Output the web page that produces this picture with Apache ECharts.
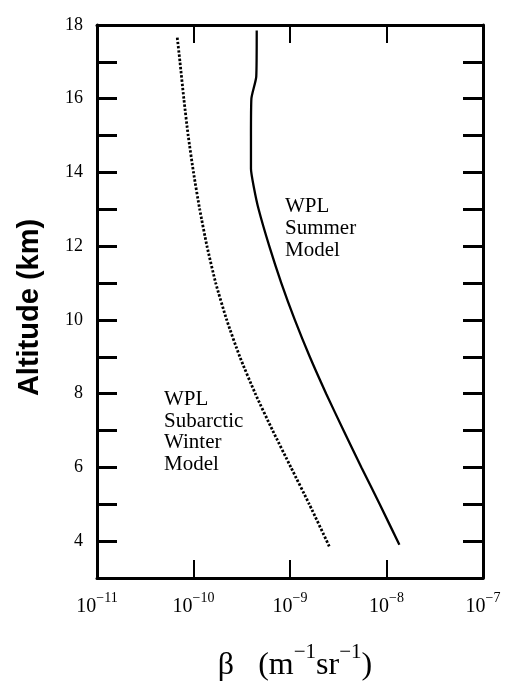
<!DOCTYPE html>
<html>
<head>
<meta charset="utf-8">
<script src="https://cdn.jsdelivr.net/npm/echarts@6/dist/echarts.min.js"></script>
<style>
  html, body { margin: 0; padding: 0; background: #fff; }
</style>
</head>
<body>
<div id="res" style="width:506px;height:687px;"></div>
<script>
// altitude (km) and backscatter beta (m^-1 sr^-1)
const summerAlt  = [3.9, 5.0, 6.0, 7.0, 8.0, 9.0, 10.0, 11.0, 12.0, 13.0, 13.6, 14.1, 15.0, 16.0, 16.6, 17.85];
const summerBeta = [1.36e-8, 8.51e-9, 5.5e-9, 3.59e-9, 2.37e-9, 1.603e-9, 1.122e-9, 8.13e-10, 6.1e-10, 4.73e-10, 4.22e-10, 3.94e-10, 3.94e-10, 3.98e-10, 4.47e-10, 4.52e-10];

const winterAlt  = [3.86, 5.0, 6.0, 7.0, 8.0, 9.0, 10.0, 11.0, 12.0, 13.0, 14.0, 15.0, 16.0, 17.0, 17.7];
const winterBeta = [2.55e-9, 1.585e-9, 1.023e-9, 6.61e-10, 4.37e-10, 3.02e-10, 2.21e-10, 1.7e-10, 1.38e-10, 1.16e-10, 1.0e-10, 8.81e-11, 7.94e-11, 7.24e-11, 6.76e-11];

const xTicks = [1e-11, 1e-10, 1e-9, 1e-8, 1e-7];
const yLabels = [4, 6, 8, 10, 12, 14, 16, 18];

function pairs(xs, ys) {
  return xs.map((x, i) => [x, ys[i]]);
}

const serif = 'Liberation Serif';
let chartDom = document.getElementById('res');
let myChart = echarts.init(chartDom);

const xCommon = {
  type: 'log',
  logBase: 10,
  min: xTicks[0],
  max: xTicks[xTicks.length - 1],
  axisLine: { show: true, lineStyle: { color: '#000', width: 3 } },
  axisTick: { show: true, inside: true, length: 18, lineStyle: { color: '#000', width: 2 } },
  minorTick: { show: false },
  splitLine: { show: false }
};
const yCommon = {
  type: 'value',
  min: 3,
  max: 18,
  interval: 1,
  axisLine: { show: true, lineStyle: { color: '#000', width: 3 } },
  axisTick: { show: true, inside: true, length: 20, lineStyle: { color: '#000', width: 3 } },
  splitLine: { show: false }
};

let option = {
  animation: false,
  grid: { left: 97, right: 23, top: 25, bottom: 109 },
  xAxis: [
    Object.assign({}, xCommon, {
      position: 'bottom',
      axisLabel: {
        margin: 13,
        formatter: function (v) {
          const e = Math.round(Math.log10(v));
          return '{b|10}{s|\u2212' + Math.abs(e) + '}';
        },
        rich: {
          b: { fontFamily: serif, fontSize: 20, color: '#000', lineHeight: 26, verticalAlign: 'bottom' },
          s: { fontFamily: serif, fontSize: 14, color: '#000', lineHeight: 26, verticalAlign: 'top' }
        }
      },
      name: '{t|\u03b2   (m}{s|\u22121}{t|sr}{s|\u22121}{t|)}',
      nameLocation: 'middle',
      nameGap: 64,
      nameTextStyle: {
        padding: [0, 0, 0, 10],
        rich: {
          t: { fontFamily: serif, fontSize: 32, color: '#000', lineHeight: 40, verticalAlign: 'bottom' },
          s: { fontFamily: serif, fontSize: 21, color: '#000', lineHeight: 40, verticalAlign: 'top' }
        }
      }
    }),
    Object.assign({}, xCommon, {
      position: 'top',
      axisLabel: { show: false }
    })
  ],
  yAxis: [
    Object.assign({}, yCommon, {
      position: 'left',
      axisLabel: {
        margin: 14,
        fontFamily: serif,
        fontSize: 18,
        color: '#000',
        formatter: function (v) {
          return yLabels.indexOf(v) >= 0 ? String(v) : '';
        }
      },
      name: 'Altitude (km)',
      nameLocation: 'middle',
      nameGap: 53,
      nameTextStyle: { fontFamily: 'Liberation Sans', fontWeight: 'bold', fontSize: 29, color: '#000', padding: [0, 12, 0, 0] }
    }),
    Object.assign({}, yCommon, {
      position: 'right',
      axisLabel: { show: false }
    })
  ],
  series: [
    {
      name: 'WPL Summer Model',
      type: 'line',
      data: pairs(summerBeta, summerAlt),
      smooth: 0.2,
      showSymbol: false,
      lineStyle: { color: '#000', width: 2.3, type: 'solid' }
    },
    {
      name: 'WPL Subarctic Winter Model',
      type: 'line',
      data: pairs(winterBeta, winterAlt),
      smooth: 0.2,
      showSymbol: false,
      lineStyle: { color: '#000', width: 2.8, type: [2.4, 1.8] }
    }
  ],
  graphic: [
    {
      type: 'text',
      left: 285,
      top: 195,
      style: { text: 'WPL\nSummer\nModel', font: '21px "Liberation Serif"', fill: '#000', lineHeight: 22 }
    },
    {
      type: 'text',
      left: 164,
      top: 389,
      style: { text: 'WPL\nSubarctic\nWinter\nModel', font: '21px "Liberation Serif"', fill: '#000', lineHeight: 21.5 }
    }
  ]
};

option && myChart.setOption(option);
</script>
</body>
</html>
